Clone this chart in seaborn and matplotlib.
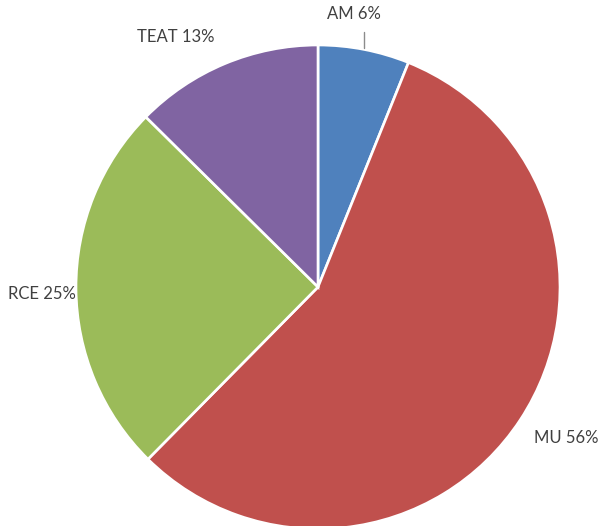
import matplotlib
matplotlib.use("Agg")
import numpy as np
import seaborn as sns
import matplotlib.pyplot as plt

# share of each category
categories = ["AM", "MU", "RCE", "TEAT"]
shares = [6.1, 56.3, 25.0, 12.6]
pct_labels = ["6%", "56%", "25%", "13%"]
colors = ["#4F81BD", "#C0504D", "#9BBB59", "#8064A2"]

sns.set_theme(style="white")
plt.rcParams["font.family"] = ["Lato", "DejaVu Sans"]

fig = plt.figure(figsize=(6.02, 5.26), dpi=100)
ax = fig.add_axes([76 / 602, -3 / 526, 484 / 602, 484 / 526])

wedges, _ = ax.pie(shares, colors=sns.color_palette(colors), startangle=90,
                   counterclock=False, radius=1.0,
                   wedgeprops=dict(edgecolor="white", linewidth=1.9))
ax.set_xlim(-1, 1)
ax.set_ylim(-1, 1)
ax.set_aspect("equal")
ax.axis("off")

# label placement, excel-ish: (distance, angle nudge in degrees, ha)
place = {
    "AM": (1.12, 0, "center"),
    "MU": (1.2, 2, "center"),
    "RCE": (1.0, 1.2, "right"),
    "TEAT": (1.19, 7, "center"),
}

for w, cat, pct in zip(wedges, categories, pct_labels):
    mid = np.deg2rad((w.theta1 + w.theta2) / 2)
    d, nudge, ha = place[cat]
    ang = mid + np.deg2rad(nudge)
    x, y = d * np.cos(ang), d * np.sin(ang)
    txt = f"{cat} {pct}"
    if cat == "AM":
        # leader line straight up from the slice, label sits a bit to the left
        ax.plot([np.cos(mid)] * 2, [np.sin(mid) + 0.005, 1.055],
                color="#8c8c8c", lw=1, clip_on=False)
        ax.text(np.cos(mid) - 0.04, 1.095, txt, ha="center", va="bottom",
                fontsize=12, color="#404040")
    else:
        ax.text(x, y, txt, ha=ha, va="center", fontsize=12, color="#404040")

fig.savefig("out.png", dpi=100)
